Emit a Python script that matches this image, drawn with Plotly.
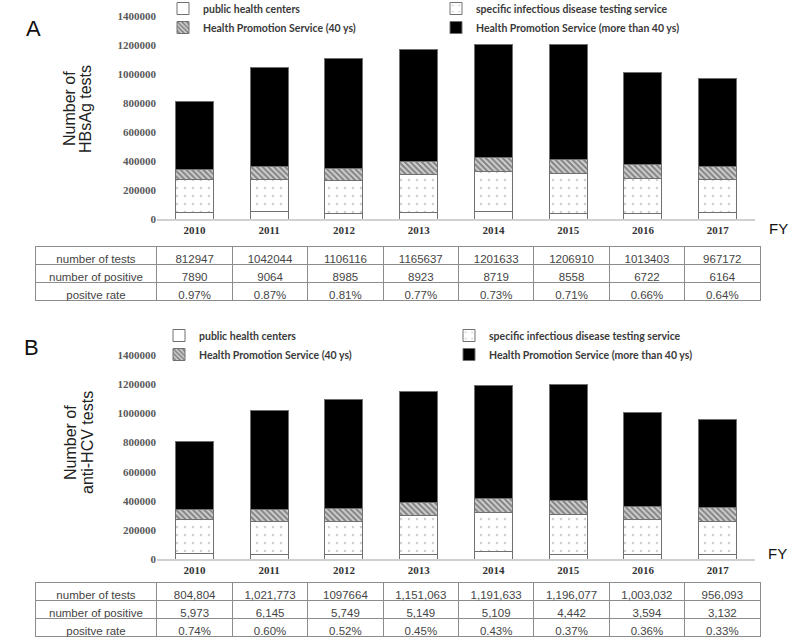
import plotly.graph_objects as go

years = ["2010", "2011", "2012", "2013", "2014", "2015", "2016", "2017"]
series_names = ["public health centers", "specific infectious disease testing service",
                "Health Promotion Service (40 ys)", "Health Promotion Service (more than 40 ys)"]

# Panel A: HBsAg tests (estimated segment sizes)
hbs_public = [48000, 52000, 41000, 50000, 57000, 37000, 37000, 45000]
hbs_specific = [227000, 223000, 223000, 260000, 271000, 280000, 245000, 230000]
hbs_40 = [65000, 87000, 87000, 91000, 101000, 96000, 92000, 87000]
hbs_over40 = [473000, 680000, 755000, 765000, 773000, 794000, 639000, 605000]
hbs_tests = ["812947", "1042044", "1106116", "1165637", "1201633", "1206910", "1013403", "967172"]
hbs_pos = ["7890", "9064", "8985", "8923", "8719", "8558", "6722", "6164"]
hbs_rate = ["0.97%", "0.87%", "0.81%", "0.77%", "0.73%", "0.71%", "0.66%", "0.64%"]

# Panel B: anti-HCV tests (estimated segment sizes)
hcv_public = [38000, 36000, 36000, 36000, 52000, 36000, 36000, 36000]
hcv_specific = [236000, 222000, 222000, 263000, 267000, 270000, 238000, 226000]
hcv_40 = [64000, 86000, 92000, 92000, 99000, 94000, 91000, 90000]
hcv_over40 = [467000, 678000, 748000, 760000, 774000, 796000, 638000, 604000]
hcv_tests = ["804,804", "1,021,773", "1097664", "1,151,063", "1,191,633", "1,196,077", "1,003,032", "956,093"]
hcv_pos = ["5,973", "6,145", "5,749", "5,149", "5,109", "4,442", "3,594", "3,132"]
hcv_rate = ["0.74%", "0.60%", "0.52%", "0.45%", "0.43%", "0.37%", "0.36%", "0.33%"]

row_labels = ["number of tests", "number of positive", "positve rate"]

W, H = 800, 642
def fy(px):
    return 1 - px / H

styles = [
    dict(color="white", line=dict(color="#707070", width=1)),
    dict(color="white", line=dict(color="#707070", width=1),
         pattern=dict(shape=".", fgcolor="#a0a0a0", bgcolor="white", size=8, solidity=0.08)),
    dict(color="white", line=dict(color="#707070", width=1),
         pattern=dict(shape="\\", fgcolor="#333333", bgcolor="#d0d0d0", size=4, solidity=0.5)),
    dict(color="black", line=dict(color="#707070", width=1)),
]

fig = go.Figure()
for vals, name, st in zip([hbs_public, hbs_specific, hbs_40, hbs_over40], series_names, styles):
    fig.add_trace(go.Bar(x=years, y=vals, name=name, marker=st, xaxis="x", yaxis="y", legend="legend"))
for vals, name, st in zip([hcv_public, hcv_specific, hcv_40, hcv_over40], series_names, styles):
    fig.add_trace(go.Bar(x=years, y=vals, name=name, marker=st, xaxis="x2", yaxis="y2", legend="legend2"))

table_font = dict(family="Liberation Sans", size=11.5, color="#454545")
def add_table(tests, pos, rate, y0, y1):
    cols_header = [row_labels[0]] + tests
    cells = [[row_labels[1], row_labels[2]]] + [[p, r] for p, r in zip(pos, rate)]
    fig.add_trace(go.Table(
        domain=dict(x=[35 / W, 760 / W], y=[y0, y1]),
        columnwidth=[122] + [75.4] * 8,
        header=dict(values=cols_header, height=18, align="center",
                    fill=dict(color="white"), line=dict(color="#8c8c8c", width=1), font=table_font),
        cells=dict(values=cells, height=18, align="center",
                   fill=dict(color="white"), line=dict(color="#8c8c8c", width=1), font=table_font),
    ))

add_table(hbs_tests, hbs_pos, hbs_rate, fy(315), fy(246))
add_table(hcv_tests, hcv_pos, hcv_rate, 0, fy(582))

tick_font = dict(family="Liberation Serif", size=11, color="#595959", weight="bold")
year_font = dict(family="Liberation Serif", size=11, color="#333333", weight="bold")
title_font = dict(family="Liberation Sans", size=16, color="#222222")
legend_font = dict(family="Lato", size=10.5, color="#3a3a3a", weight="bold")

xcommon = dict(type="category", range=[-0.5, 7.5], showline=True, linecolor="#d0d0d0", linewidth=1.5,
               ticks="", tickfont=year_font, showgrid=False, zeroline=False, automargin=False)
ycommon = dict(range=[0, 1400000], dtick=200000, tickformat="d", showgrid=False, zeroline=False,
               showline=False, ticks="", tickfont=tick_font, automargin=False)

def ann(text, x, y, size, angle=0, font=None):
    return dict(text=text, x=x / W, y=fy(y), xref="paper", yref="paper", showarrow=False,
                xanchor="center", yanchor="middle", textangle=angle,
                font=font or dict(family="Liberation Sans", size=size, color="#111"))

fig.update_layout(
    width=W, height=H, margin=dict(l=0, r=0, t=0, b=0, autoexpand=False),
    paper_bgcolor="white", plot_bgcolor="white",
    barmode="stack", bargap=0.49, showlegend=True,
    xaxis=dict(xcommon, domain=[157 / W, 755 / W], anchor="y"),
    yaxis=dict(ycommon, domain=[fy(219.3), fy(16)], anchor="x"),
    xaxis2=dict(xcommon, domain=[157 / W, 755 / W], anchor="y2"),
    yaxis2=dict(ycommon, domain=[fy(559.3), fy(355)], anchor="x2"),
    legend=dict(orientation="h", x=163 / W, y=fy(-6), xanchor="left", yanchor="top",
                entrywidth=228, entrywidthmode="pixels", traceorder="normal",
                font=legend_font, tracegroupgap=0, itemwidth=30, bgcolor="rgba(0,0,0,0)"),
    legend2=dict(orientation="h", x=159 / W, y=fy(321), xanchor="left", yanchor="top",
                 entrywidth=245, entrywidthmode="pixels", traceorder="normal",
                 font=legend_font, tracegroupgap=0, itemwidth=30, bgcolor="rgba(0,0,0,0)"),
    annotations=[
        ann("A", 33, 28, 22),
        ann("B", 31, 347, 22),
        ann("FY", 778, 228, 15),
        ann("FY", 777, 553, 15),
        ann("Number of", 70, 109, 16, -90, title_font),
        ann("HBsAg tests", 86, 109, 16, -90, title_font),
        ann("Number of", 70, 443, 16, -90, title_font),
        ann("anti-HCV tests", 87, 443, 16, -90, title_font),
    ],
)

fig.write_html("out.html", config={"displayModeBar": False},
               post_script="document.body.style.margin='0';document.body.style.overflow='hidden';")
